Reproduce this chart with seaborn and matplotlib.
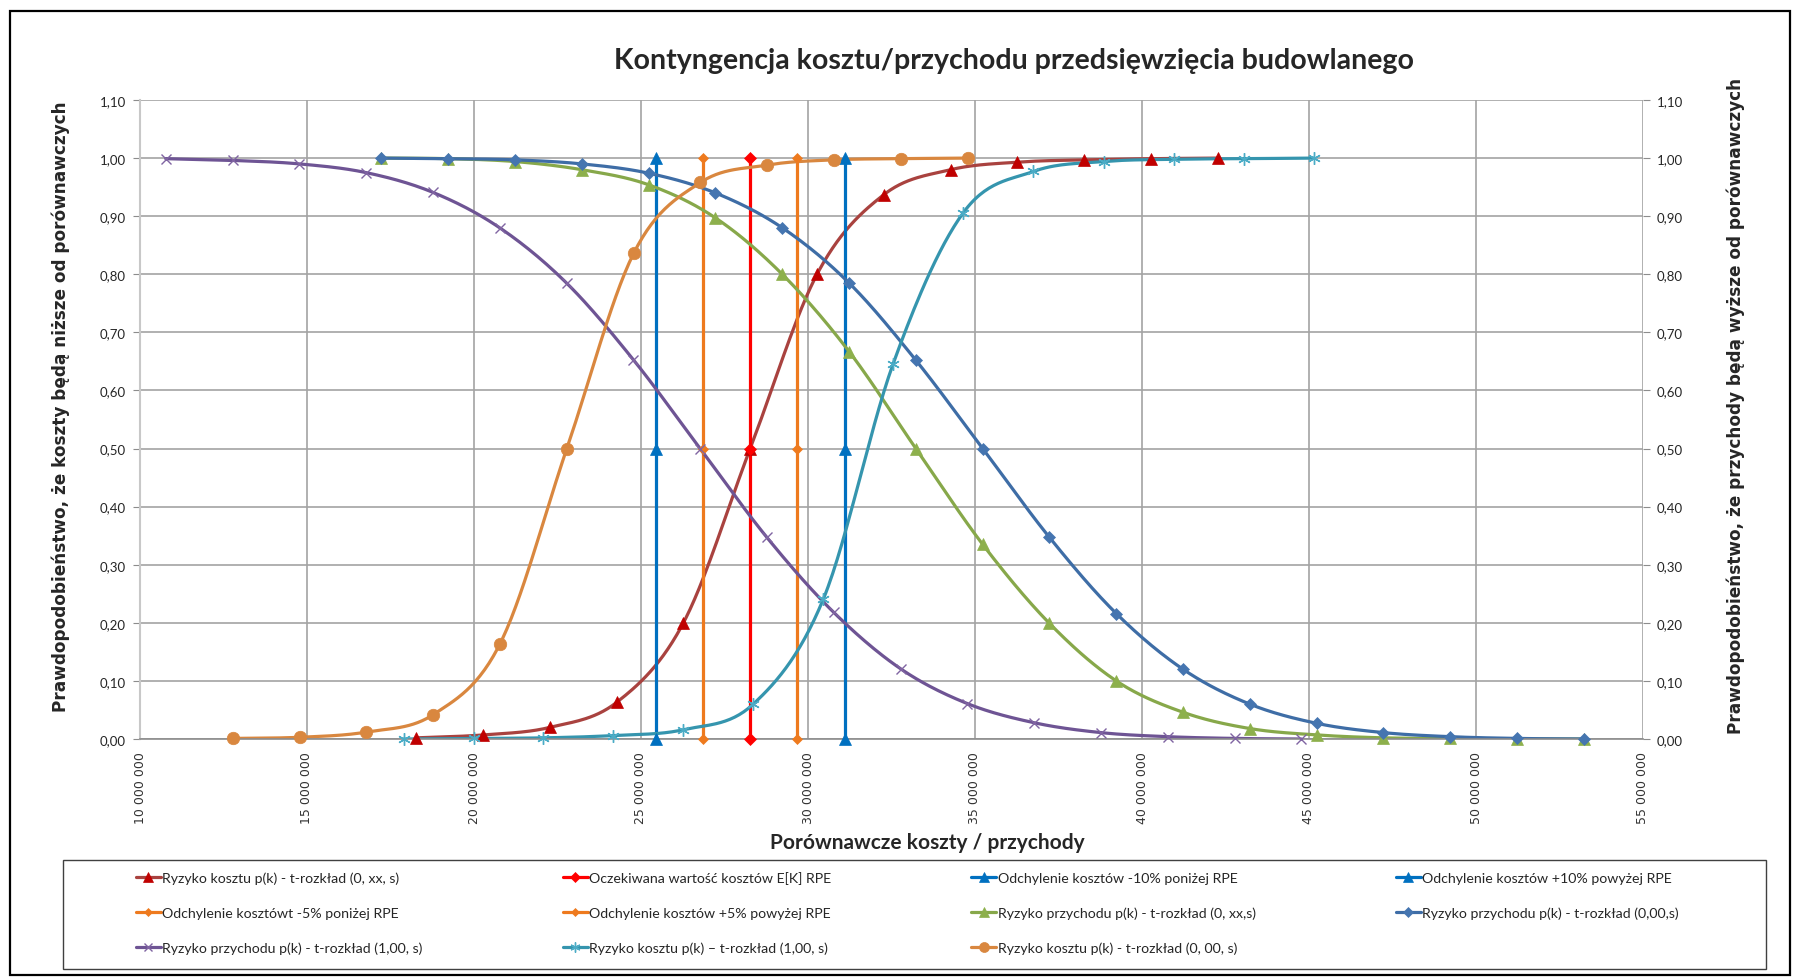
import numpy as np
import pandas as pd
import matplotlib
matplotlib.use("Agg")
import matplotlib.pyplot as plt
import seaborn as sns
from matplotlib.lines import Line2D
from matplotlib.patches import Rectangle
from matplotlib.ticker import FuncFormatter, MultipleLocator

# dane (x w mln zł, y = prawdopodobieństwo)
koszt_xx_x = [18.27, 20.27, 22.27, 24.27, 26.27, 28.27, 30.27, 32.27, 34.27, 36.27, 38.27, 40.27, 42.27]
koszt_xx_y = [0.002, 0.007, 0.020, 0.063, 0.200, 0.500, 0.800, 0.937, 0.980, 0.993, 0.997, 0.999, 1.000]

ek_x = [28.27, 28.27, 28.27]
minus10_x = [25.44, 25.44, 25.44]
plus10_x = [31.10, 31.10, 31.10]
minus5_x = [26.86, 26.86, 26.86]
plus5_x = [29.68, 29.68, 29.68]
pion_y = [0.0, 0.5, 1.0]

przych_xx_x = [17.23, 19.23, 21.23, 23.23, 25.23, 27.23, 29.23, 31.23, 33.23, 35.23,
               37.23, 39.23, 41.23, 43.23, 45.23, 47.23, 49.23, 51.23, 53.23]
przych_xx_y = [1.000, 0.999, 0.994, 0.980, 0.954, 0.897, 0.800, 0.667, 0.500, 0.335,
               0.199, 0.100, 0.046, 0.018, 0.007, 0.002, 0.001, 0.000, 0.000]

przych_00_x = przych_xx_x
przych_00_y = [1.000, 0.999, 0.997, 0.990, 0.974, 0.940, 0.880, 0.785, 0.652, 0.500,
               0.347, 0.216, 0.120, 0.060, 0.027, 0.011, 0.004, 0.001, 0.000]

przych_100_x = [10.77, 12.77, 14.77, 16.77, 18.77, 20.77, 22.77, 24.77, 26.77, 28.77,
                30.77, 32.77, 34.77, 36.77, 38.77, 40.77, 42.77, 44.77]
przych_100_y = [0.999, 0.996, 0.990, 0.975, 0.941, 0.880, 0.785, 0.653, 0.500, 0.347,
                0.218, 0.121, 0.061, 0.028, 0.011, 0.004, 0.001, 0.000]

koszt_100_x = [17.89, 19.99, 22.08, 24.17, 26.27, 28.36, 30.46, 32.55, 34.65, 36.75,
               38.85, 40.95, 43.05, 45.15]
koszt_100_y = [0.000, 0.001, 0.002, 0.006, 0.016, 0.060, 0.241, 0.646, 0.906, 0.977,
               0.994, 0.998, 0.999, 1.000]

koszt_00_x = [12.78, 14.78, 16.78, 18.78, 20.78, 22.78, 24.78, 26.78, 28.78, 30.78, 32.78, 34.78]
koszt_00_y = [0.001, 0.003, 0.012, 0.042, 0.164, 0.500, 0.836, 0.958, 0.988, 0.997, 0.999, 1.000]

etykiety = [
    "Ryzyko kosztu p(k) - t-rozkład (0, xx, s)",
    "Oczekiwana wartość kosztów E[K] RPE",
    "Odchylenie kosztów -10% poniżej RPE",
    "Odchylenie kosztów +10% powyżej RPE",
    "Odchylenie kosztówt -5% poniżej RPE",
    "Odchylenie kosztów +5% powyżej RPE",
    "Ryzyko przychodu p(k) - t-rozkład (0, xx,s)",
    "Ryzyko przychodu p(k) - t-rozkład (0,00,s)",
    "Ryzyko przychodu p(k) - t-rozkład (1,00, s)",
    "Ryzyko kosztu p(k) – t-rozkład (1,00, s)",
    "Ryzyko kosztu p(k) - t-rozkład (0, 00, s)",
]

# (x, y, kolor linii, kolor znacznika, znacznik, rozmiar znacznika, grubość krawędzi)
serie = [
    (koszt_xx_x, koszt_xx_y, "#A9423F", "#C00000", "^", 9, 0.5),
    (ek_x, pion_y, "#FF0000", "#FF0000", "D", 6, 0.5),
    (minus10_x, pion_y, "#0070C0", "#0070C0", "^", 9, 0.5),
    (plus10_x, pion_y, "#0070C0", "#0070C0", "^", 9, 0.5),
    (minus5_x, pion_y, "#EE7A1E", "#EE7A1E", "D", 5.5, 0.5),
    (plus5_x, pion_y, "#EE7A1E", "#EE7A1E", "D", 5.5, 0.5),
    (przych_xx_x, przych_xx_y, "#87A84A", "#8DB04C", "^", 9, 0.5),
    (przych_00_x, przych_00_y, "#3E6DA6", "#4575B0", "D", 6.5, 0.5),
    (przych_100_x, przych_100_y, "#6E5494", "#8064A2", "x", 7, 1.0),
    (koszt_100_x, koszt_100_y, "#3595AE", "#4BACC6", (6, 2, 0), 9, 1.0),
    (koszt_00_x, koszt_00_y, "#D9873F", "#D9873F", "o", 9, 0.5),
]


def wygladz(x, y, n=30):
    # krzywa Catmull-Rom, podobna do wygładzania linii w Excelu
    x = np.asarray(x, float)
    y = np.asarray(y, float)
    px = np.concatenate([[2 * x[0] - x[1]], x, [2 * x[-1] - x[-2]]])
    py = np.concatenate([[2 * y[0] - y[1]], y, [2 * y[-1] - y[-2]]])
    t = np.linspace(0, 1, n, endpoint=False)
    xs, ys = [], []
    for i in range(1, len(px) - 2):
        for p, out in ((px, xs), (py, ys)):
            p0, p1, p2, p3 = p[i - 1], p[i], p[i + 1], p[i + 2]
            out.extend(0.5 * ((2 * p1) + (-p0 + p2) * t
                              + (2 * p0 - 5 * p1 + 4 * p2 - p3) * t ** 2
                              + (-p0 + 3 * p1 - 3 * p2 + p3) * t ** 3))
    xs.append(x[-1])
    ys.append(y[-1])
    return np.array(xs), np.array(ys)


sns.set_style("white")
plt.rcParams["font.family"] = ["Lato", "DejaVu Sans"]

fig = plt.figure(figsize=(17.96, 9.79), dpi=100)
W, H = 1796, 979
ax = fig.add_axes([140 / W, 1 - 740 / H, (1643 - 140) / W, (740 - 101) / H])

siatka = "#A3A3A3"
ax.set_xlim(10, 55)
ax.set_ylim(0, 1.1)
ax.xaxis.set_major_locator(MultipleLocator(5))
ax.yaxis.set_major_locator(MultipleLocator(0.1))
ax.grid(True, color=siatka, linewidth=1.2)
ax.set_axisbelow(True)

uchwyty = []
for (x, y, kl, km, mk, ms, mew), lab in zip(serie, etykiety):
    xs, ys = wygladz(x, y)
    sns.lineplot(x=xs, y=ys, ax=ax, color=kl, linewidth=2.3, sort=False,
                 estimator=None, legend=False)
    ax.plot(x, y, linestyle="", marker=mk, markersize=ms, color=km,
            markeredgecolor=km, markeredgewidth=mew, clip_on=False, zorder=3)
    uchwyty.append(Line2D([], [], color=kl, linewidth=2.3, marker=mk,
                          markersize=ms * 0.8, markerfacecolor=km,
                          markeredgecolor=km, markeredgewidth=mew))

ax.xaxis.set_major_formatter(FuncFormatter(lambda v, p: f"{v * 1e6:,.0f}".replace(",", " ")))
ax.yaxis.set_major_formatter(FuncFormatter(lambda v, p: f"{v:.2f}".replace(".", ",")))
for s in ("top", "right"):
    ax.spines[s].set_visible(False)
ax.spines["left"].set_color("#C8C8C8")
ax.spines["left"].set_linewidth(1.5)
ax.spines["bottom"].set_color("#8C8C8C")
ax.spines["bottom"].set_linewidth(1.2)
ax.tick_params(axis="x", direction="out", length=5, color="#8C8C8C", rotation=90,
               labelsize=9, pad=4)
ax.tick_params(axis="y", direction="out", length=5, color="#8C8C8C", labelsize=9.5, pad=5)
for t in ax.get_xticklabels():
    t.set_family(["DejaVu Sans"])
    t.set_color("#333333")
ax.set_xlabel("")
ax.set_ylabel("")

ax2 = ax.twinx()
ax2.set_ylim(0, 1.1)
ax2.yaxis.set_major_locator(MultipleLocator(0.1))
ax2.yaxis.set_major_formatter(FuncFormatter(lambda v, p: f"{v:.2f}".replace(".", ",")))
for s in ax2.spines.values():
    s.set_visible(False)
ax2.tick_params(axis="y", direction="out", length=5, color="#8C8C8C", labelsize=9.5, pad=5)
ax2.grid(False)

fig.text(1014 / W, 1 - 61 / H,
         "Kontyngencja kosztu/przychodu przedsięwzięcia budowlanego",
         ha="center", va="center", fontsize=20.5, fontweight="bold")
fig.text(927 / W, 1 - 843 / H, "Porównawcze koszty / przychody",
         ha="center", va="center", fontsize=15, fontweight="bold")
fig.text(61 / W, 1 - 407 / H, "Prawdopodobieństwo, że koszty będą niższe od porównawczych",
         ha="center", va="center", rotation=90, fontsize=12.2, fontweight="bold",
         family=["DejaVu Sans"])
fig.text(1736 / W, 1 - 406 / H, "Prawdopodobieństwo, że przychody będą wyższe od porównawczych",
         ha="center", va="center", rotation=90, fontsize=12.2, fontweight="bold",
         family=["DejaVu Sans"])

# ramka wykresu i ramka legendy
fig.patches.append(Rectangle((10 / W, 1 - 976 / H), 1780 / W, 964 / H, transform=fig.transFigure,
                             fill=False, edgecolor="black", linewidth=1.6))
fig.patches.append(Rectangle((63 / W, 1 - 970 / H), (1766 - 63) / W, (970 - 861) / H,
                             transform=fig.transFigure, fill=False, edgecolor="#404040",
                             linewidth=1.0))

kolejnosc = [0, 4, 8, 1, 5, 9, 2, 6, 10, 3, 7]
fig.legend([uchwyty[i] for i in kolejnosc], [etykiety[i] for i in kolejnosc],
           ncol=4, loc="upper left", bbox_to_anchor=(136 / W, 1 - 872 / H),
           frameon=False, fontsize=10.2, handlelength=1.75, handletextpad=0.1,
           labelspacing=1.6, columnspacing=9.9, borderaxespad=0, borderpad=0)

fig.savefig("out.png", dpi=100)
